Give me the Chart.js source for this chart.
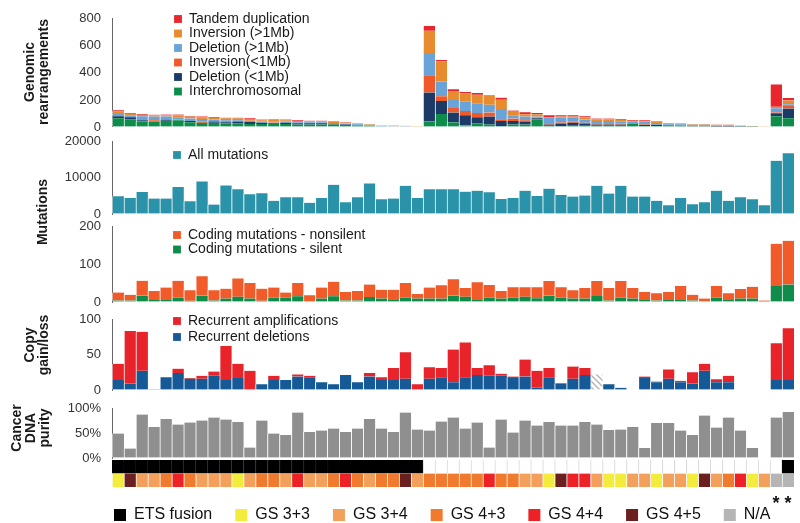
<!DOCTYPE html>
<html>
<head>
<meta charset="utf-8">
<script src="https://cdn.jsdelivr.net/npm/chart.js@4.4.1/dist/chart.umd.min.js"></script>
<style>
  body { margin: 0; background: #fff; }
  #wrap { position: relative; width: 800px; height: 523px; }
  #wrap canvas { position: absolute; left: 0; top: 0; }
</style>
</head>
<body>
<div id="wrap">
  <canvas id="rearr" width="800" height="523"></canvas>
  <canvas id="muts" width="800" height="523"></canvas>
  <canvas id="coding" width="800" height="523"></canvas>
  <canvas id="copy" width="800" height="523"></canvas>
  <canvas id="purity" width="800" height="523"></canvas>
  <canvas id="heat" width="800" height="523"></canvas>
  <canvas id="key" width="800" height="523"></canvas>
</div>
<script>
// --- data, one value per sample (57 samples, left to right) ---
var interchrom = [64,57,41,41,46,50,36,32,32,27,27,23,23,23,23,18,18,18,18,14,11,9,4,4,3,3,
  41,96,34,11,27,18,5,18,18,55,9,5,9,9,9,9,9,23,7,7,7,7,5,5,3,3,1,1,0,80,64];
var delSmall = [16,16,9,0,9,0,9,0,9,9,14,14,9,5,9,9,9,9,5,5,4,2,0,0,0,0,
  214,96,73,75,46,59,39,27,23,9,9,18,23,14,9,9,9,0,9,9,5,4,4,4,4,4,2,0,0,21,73];
var invSmall = [0,0,0,9,0,5,0,9,0,0,0,0,0,5,0,0,0,0,0,0,0,0,0,0,0,0,
  128,36,34,32,30,30,14,18,9,4,9,11,9,9,9,9,7,4,4,0,0,0,0,0,0,0,0,0,0,7,18];
var delBig = [16,14,30,27,23,14,18,18,14,14,9,9,9,9,9,9,9,9,7,7,5,5,3,2,3,0,
  164,109,59,68,73,57,75,23,27,9,46,34,27,23,18,18,18,11,18,14,9,9,7,7,5,5,3,2,4,30,14];
var invBig = [20,11,11,9,9,18,14,14,14,14,14,14,9,9,9,9,7,7,7,7,5,5,4,3,3,2,
  164,148,66,64,62,68,68,32,18,18,0,9,9,18,11,11,11,9,9,7,5,5,5,5,4,4,3,3,1,11,27];
var tandem = [7,5,5,5,5,5,5,5,5,5,5,5,5,5,5,5,4,4,4,4,2,2,0,2,0,0,
  36,11,14,9,14,5,16,4,14,9,14,9,9,7,7,7,5,5,5,4,4,2,2,2,2,2,2,1,0,166,18];

var allMutations = [4860,4410,6040,4230,4230,7390,3510,8920,2610,7840,6760,5400,5680,3600,4600,4600,
  3060,4410,8020,3240,4600,8380,4050,4230,7750,4410,6760,6760,6760,6130,6400,5950,4140,4410,
  6400,4950,6940,5230,4770,5050,7750,5590,7750,4770,4770,3600,2430,4410,2700,3240,6400,3600,
  4600,4050,2430,14600,16670];

var silent = [4,4,17,5,5,11,3,17,4,9,14,9,3,11,11,15,2,9,15,4,4,13,9,5,12,9,9,9,17,14,5,12,9,
  11,14,10,17,11,9,9,16,4,11,9,5,4,5,5,4,2,11,5,9,9,1,44,46];
var nonsilent = [21,15,39,24,33,45,28,51,27,26,48,41,32,27,14,35,16,29,38,22,25,33,23,27,38,12,
  29,35,43,23,47,33,20,28,25,29,38,28,22,28,39,33,44,28,21,19,21,37,15,7,31,18,25,31,3,109,115];

var recDeletions = [14,9,27,1,18,24,16,16,20,14,17,0,8,14,14,19,18,11,8,21,11,19,14,14,16,0,16,18,
  11,18,21,20,20,17,19,3,18,9,16,21,null,8,3,0,17,11,16,11,9,27,11,11,0,0,0,14,14];
var recAmplifications = [23,74,55,0,0,6,1,4,6,48,20,27,0,6,0,3,2,0,0,0,0,5,4,17,37,8,16,13,
  46,49,10,15,3,2,24,24,13,1,17,10,null,0,0,0,2,1,13,2,16,10,4,9,0,0,0,52,73];
var copyMissing = [null,null,null,null,null,null,null,null,null,null,null,null,null,null,null,
  null,null,null,null,null,null,null,null,null,null,null,null,null,null,null,null,null,null,
  null,null,null,null,null,null,null,22,null,null,null,null,null,null,null,null,null,null,
  null,null,null,null,null,null];

var purity = [49,19,87,62,78,67,71,75,81,77,72,21,75,49,46,91,52,55,59,52,59,78,59,52,91,57,55,
  73,81,59,71,21,77,51,75,65,72,65,65,72,67,56,57,62,20,70,70,55,46,85,61,81,55,20,null,81,92];

var etsFusion = [1,1,1,1,1,1,1,1,1,1,1,1,1,1,1,1,1,1,1,1,1,1,1,1,1,1,
  0,0,0,0,0,0,0,0,0,0,0,0,0,0,0,0,0,0,0,0,0,0,0,0,0,0,0,0,0,0,1];
var gleason = ['3+3','4+5','3+4','3+4','4+3','4+4','4+3','3+4','3+4','3+4',
  '3+3','3+4','4+3','4+3','3+4','4+4','3+4','3+4','4+3','4+4',
  '4+3','3+4','4+3','4+3','4+5','3+4','4+3','4+3','4+3','4+3',
  '4+3','4+4','4+3','4+3','3+4','3+4','3+3','4+5','4+4','4+4',
  '3+4','3+3','3+3','3+4','3+4','3+3','3+4','3+4','3+3','4+5',
  '3+4','4+3','4+4','3+3','3+4','N/A','N/A'];

var gsKeys = ['3+3','3+4','4+3','4+4','4+5','N/A'];
var gsColors = ['#f4ec3c','#f3a05c','#f07a2e','#ec2227','#6b1f1f','#b5b5b5'];

var samples = gleason.map(function(g, i) { return 'S' + (i + 1); });

Chart.defaults.font.family = "'Liberation Sans', Arial, sans-serif";
Chart.defaults.font.size = 13;
Chart.defaults.color = '#333';
Chart.defaults.animation = false;

// legend placed at a fixed spot (inside the plot)
var placeLegend = {
  id: 'placeLegend',
  afterLayout: function(chart, args, opts) {
    var lg = chart.legend;
    if (!lg || opts.left === undefined) return;
    var w = lg.width, h = lg.height;
    lg.left = opts.left; lg.right = opts.left + w;
    lg.top = opts.top; lg.bottom = opts.top + h;
  }
};

// rotated axis titles on the far left
var sideTitle = {
  id: 'sideTitle',
  afterDraw: function(chart, args, opts) {
    if (!opts.lines) return;
    var ctx = chart.ctx;
    ctx.save();
    ctx.font = "bold 14px 'Liberation Sans', Arial, sans-serif";
    ctx.fillStyle = '#1a1a1a';
    ctx.textAlign = 'center';
    ctx.textBaseline = 'middle';
    opts.lines.forEach(function(t, i) {
      ctx.save();
      ctx.translate(opts.x + i * 14, opts.y);
      ctx.rotate(-Math.PI / 2);
      ctx.fillText(t, 0, 0);
      ctx.restore();
    });
    ctx.restore();
  }
};

function bars(label, data, color) {
  return {
    label: label, data: data, backgroundColor: color,
    borderColor: 'rgba(255,255,255,0.75)',
    borderWidth: {left: 1, right: 0, top: 0, bottom: 0}
  };
}

function panel(id, datasets, area, y, legendAt, title, spacing) {
  var sp = spacing || 0.5;
  return new Chart(document.getElementById(id), {
    type: 'bar',
    data: {labels: samples, datasets: datasets},
    options: {
      responsive: false,
      layout: {padding: {top: area[0], bottom: 523 - area[1], left: 0, right: 6}},
      datasets: {bar: {barPercentage: 1, categoryPercentage: 1}},
      scales: {
        x: {stacked: true, display: false},
        y: {
          stacked: true, min: 0, max: y.max,
          ticks: {stepSize: y.step, padding: 11, callback: y.fmt || function(v) { return v; }},
          grid: {drawOnChartArea: false, drawTicks: false},
          border: {color: '#666', width: 1},
          afterFit: function(s) { s.width = 112; }
        }
      },
      plugins: {
        tooltip: {enabled: false},
        legend: {
          display: !!legendAt,
          position: 'chartArea',
          align: 'start',
          reverse: true,
          labels: {
            boxWidth: 8, boxHeight: 8, padding: sp,
            color: '#1a1a1a', font: {size: 14},
            filter: function(item) { return item.text.charAt(0) !== '_'; }
          }
        },
        placeLegend: legendAt ? {left: legendAt[0] - sp, top: legendAt[1] - 7 - sp} : {},
        sideTitle: title || {}
      }
    },
    plugins: [placeLegend, sideTitle]
  });
}

// stacked bottom-up; legend reversed so it reads top-down like the figure
panel('rearr', [
  bars('Interchromosomal', interchrom, '#0e8c4a'),
  bars('Deletion (<1Mb)', delSmall, '#1b3a66'),
  bars('Inversion(<1Mb)', invSmall, '#f0592a'),
  bars('Deletion (>1Mb)', delBig, '#6aa3d8'),
  bars('Inversion (>1Mb)', invBig, '#e88a2e'),
  bars('Tandem duplication', tandem, '#e8262b')
], [10, 127], {max: 800, step: 200}, [174, 19],
  {lines: ['Genomic', 'rearrangements'], x: 30, y: 72});

panel('muts', [bars('All mutations', allMutations, '#2b93a9')],
  [141, 214], {max: 20000, step: 10000}, [173, 155],
  {lines: ['Mutations'], x: 43, y: 212});

panel('coding', [
  bars('Coding mutations - silent', silent, '#0f8c4a'),
  bars('Coding mutations - nonsilent', nonsilent, '#f15a29')
], [226, 302], {max: 200, step: 100}, [173, 235]);

// hatch fill for the sample without copy-number data
var hc = document.createElement('canvas');
hc.width = 6; hc.height = 6;
var hg = hc.getContext('2d');
hg.strokeStyle = '#b5b5b5'; hg.lineWidth = 1.4;
hg.beginPath();
hg.moveTo(-1, -1); hg.lineTo(7, 7);
hg.moveTo(-4, 2); hg.lineTo(4, 10);
hg.moveTo(2, -4); hg.lineTo(10, 4);
hg.stroke();
var hatch = hg.createPattern(hc, 'repeat');

panel('copy', [
  bars('Recurrent deletions', recDeletions, '#155a96'),
  bars('Recurrent amplifications', recAmplifications, '#e8232a'),
  bars('_missing', copyMissing, hatch)
], [319, 390], {max: 100, step: 50}, [173, 321],
  {lines: ['Copy', 'gain/loss'], x: 30, y: 345}, 2);

panel('purity', [bars('Purity', purity, '#8f8f8f')],
  [408, 458], {max: 100, step: 50, fmt: function(v) { return v + '%'; }}, null,
  {lines: ['Cancer', 'DNA', 'purity'], x: 17, y: 428});

// ETS fusion + Gleason score rows
new Chart(document.getElementById('heat'), {
  type: 'bar',
  data: {
    labels: samples,
    datasets: [
      {
        label: 'Gleason score', data: gleason.map(function() { return 1; }),
        backgroundColor: gleason.map(function(g) { return gsColors[gsKeys.indexOf(g)]; }),
        borderColor: 'rgba(255,255,255,0.6)', borderWidth: {left: 1, right: 0, top: 0, bottom: 0}
      },
      {
        label: 'ETS fusion', data: etsFusion.map(function() { return 1; }),
        backgroundColor: etsFusion.map(function(e) { return e ? '#000' : '#fff'; }),
        borderColor: etsFusion.map(function(e) { return e ? '#000' : '#d6d6d6'; }),
        borderWidth: {left: 1, right: 0, top: 0, bottom: 1}
      }
    ]
  },
  options: {
    responsive: false,
    layout: {padding: {top: 460, bottom: 14, left: 112, right: 6}},
    datasets: {bar: {barPercentage: 1, categoryPercentage: 1}},
    scales: {
      x: {
        stacked: true,
        grid: {display: false, drawTicks: false},
        border: {display: false},
        ticks: {
          autoSkip: false, maxRotation: 0, padding: 6, color: '#111',
          font: {size: 18, weight: 'bold'},
          callback: function(v, i) { return gleason[i] === 'N/A' ? '*' : ''; }
        },
        afterFit: function(s) { s.height = 22; }
      },
      y: {stacked: true, display: false, min: 0, max: 2}
    },
    plugins: {legend: {display: false}, tooltip: {enabled: false}}
  }
});

// bottom key
var keyLabels = ['ETS fusion', 'GS 3+3', 'GS 3+4', 'GS 4+3', 'GS 4+4', 'GS 4+5', 'N/A'];
var keyColors = ['#000000'].concat(gsColors);
new Chart(document.getElementById('key'), {
  type: 'bar',
  data: {
    labels: [],
    datasets: keyLabels.map(function(t, i) {
      return {label: t, data: [], backgroundColor: keyColors[i], borderWidth: 0};
    })
  },
  options: {
    responsive: false,
    scales: {x: {display: false}, y: {display: false}},
    plugins: {
      tooltip: {enabled: false},
      legend: {
        position: 'bottom', align: 'start',
        labels: {
          boxWidth: 12, boxHeight: 12, padding: 23, color: '#111',
          font: {size: 16}
        }
      },
      placeLegend: {left: 114 - 23, top: 515 - 8 - 23}
    }
  },
  plugins: [placeLegend]
});
</script>
</body>
</html>
